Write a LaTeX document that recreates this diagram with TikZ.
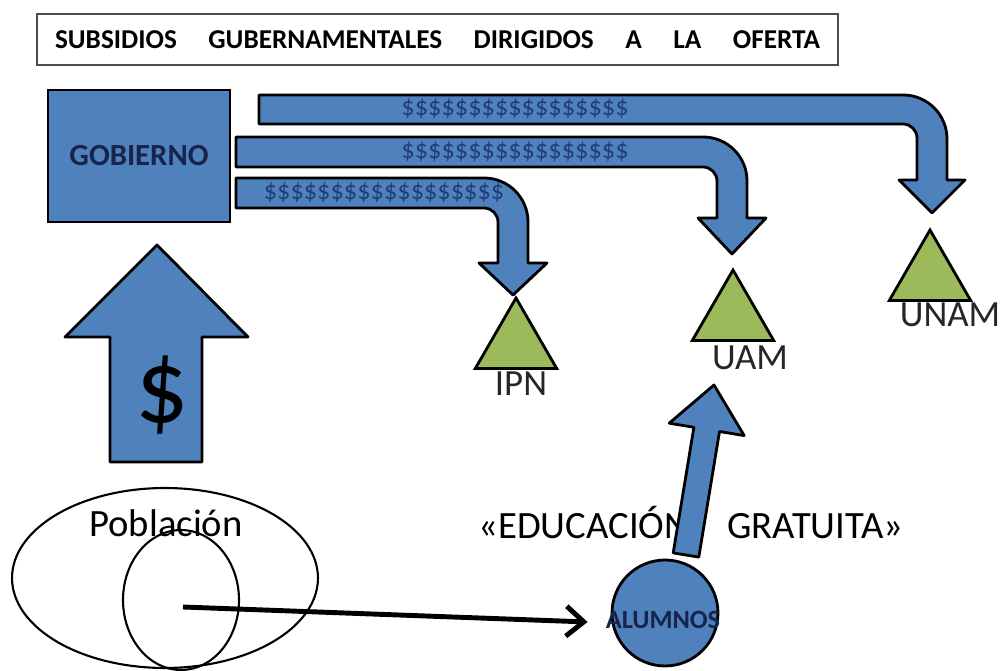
\documentclass[tikz,border=0pt]{standalone}
\usepackage{fontspec}
\setmainfont{Carlito}
\usetikzlibrary{shapes.geometric, positioning}
\usetikzlibrary{arrows.meta}
\definecolor{BLUE}{rgb}{0.31,0.51,0.74}
\definecolor{GREEN}{rgb}{0.61,0.73,0.35}
\definecolor{NAVY}{rgb}{0.09,0.14,0.30}
\definecolor{DOLLAR}{rgb}{0.13,0.24,0.48}

\begin{document}
\begin{tikzpicture}[x=0.02cm, y=-0.02cm,
  blockarrow/.style={fill=BLUE, draw=black, line width=1.6pt, line join=round},
  tri/.style={regular polygon, regular polygon sides=3, draw=black, fill=GREEN, line width=1.6pt, inner sep=0pt, minimum size=1.88cm},
  lbl/.style={font=\fontsize{21}{21}\selectfont, text=black!85},
  money/.style={font=\fontsize{15}{15}\selectfont, text=DOLLAR}]
\useasboundingbox (0,0) rectangle (1007,671);

% title
\node[draw=black!70, line width=0.7pt, text width=15.3cm, inner xsep=0.36cm, minimum height=1.02cm, font=\bfseries\fontsize{15.5}{18}\selectfont] (title) at (437.5,39.5)
{SUBSIDIOS\hfill GUBERNAMENTALES\hfill DIRIGIDOS\hfill A\hfill LA\hfill OFERTA};

% gobierno
\node[draw=black, fill=BLUE, line width=1.6pt, minimum width=3.64cm, minimum height=2.64cm, font=\bfseries\fontsize{17.5}{20}\selectfont, text=NAVY] (gob) at (139,156) {GOBIERNO};

% bent arrows (UNAM, UAM, IPN)
\draw[blockarrow] (259,95) [rounded corners=25pt] -- (947,95) [sharp corners] -- (947,180) -- (965,180) -- (932,213) -- (899,180) -- (917,180) [rounded corners=8pt] -- (917,124) [sharp corners] -- (259,124) -- cycle;
\draw[blockarrow] (236,137) [rounded corners=25pt] -- (747,137) [sharp corners] -- (747,218) -- (766,218) -- (732,254) -- (698,218) -- (717,218) [rounded corners=8pt] -- (717,167) [sharp corners] -- (236,167) -- cycle;
\draw[blockarrow] (236,178) [rounded corners=25pt] -- (528,178) [sharp corners] -- (528,263) -- (547,263) -- (513,295) -- (479,263) -- (498,263) [rounded corners=8pt] -- (498,208) [sharp corners] -- (236,208) -- cycle;

\node[money] (m1) at (515,109) {\$\$\$\$\$\$\$\$\$\$\$\$\$\$\$\$\$};
\node[money] (m2) at (515,152) {\$\$\$\$\$\$\$\$\$\$\$\$\$\$\$\$\$};
\node[money] (m3) at (384,193) {\$\$\$\$\$\$\$\$\$\$\$\$\$\$\$\$\$\$};

% universities
\node[tri] (ipn) at (516,345) {};
\node[tri] (uam) at (733,317) {};
\node[tri] (unam) at (930,277) {};
\node[lbl] (ipnlbl) at (521,384) {IPN};
\node[lbl] (uamlbl) at (750,358) {UAM};
\node[lbl] (unamlbl) at (950,315) {UNAM};

% money up to gobierno
\draw[blockarrow] (110,462) -- (110,337) -- (65,337) -- (157,245) -- (248,337) -- (202,337) -- (202,462) -- cycle;
\node[font=\fontsize{60}{60}\selectfont] (dollar) at (162,395) {\$};

% poblacion
\node[ellipse, draw, line width=1.2pt, minimum width=6.12cm, minimum height=3.6cm, inner sep=0pt] (pob) at (165,578) {};
\node[ellipse, draw, line width=1.2pt, minimum width=2.32cm, minimum height=2.8cm, inner sep=0pt] (sub) at (181,600) {};
\node[font=\fontsize{22}{22}\selectfont] (pobtxt) at (166,523) {Población};

\node[font=\fontsize{22}{22}\selectfont] (edu) at (691,523) {«EDUCACIÓN\hspace{0.76cm}GRATUITA»};

% alumnos
\node[circle, draw, fill=BLUE, line width=1.6pt, minimum size=2.12cm, inner sep=0pt] (alu) at (665,613) {};
\node[font=\bfseries\fontsize{15}{15}\selectfont, text=NAVY] (alutxt) at (663,620) {ALUMNOS};

\draw[line width=2.8pt, -{Straight Barb[length=10pt,width=17pt]}] ([shift={(2,7)}]sub.center) -- ([shift={(-23,9)}]alu.west);

\draw[blockarrow] (673.2,552.9) -- (693.9,427.3) -- (669.2,423.2) -- (714,385) -- (744.2,435.6) -- (719.5,431.5) -- (698.8,557.1) -- cycle;
\end{tikzpicture}
\end{document}
